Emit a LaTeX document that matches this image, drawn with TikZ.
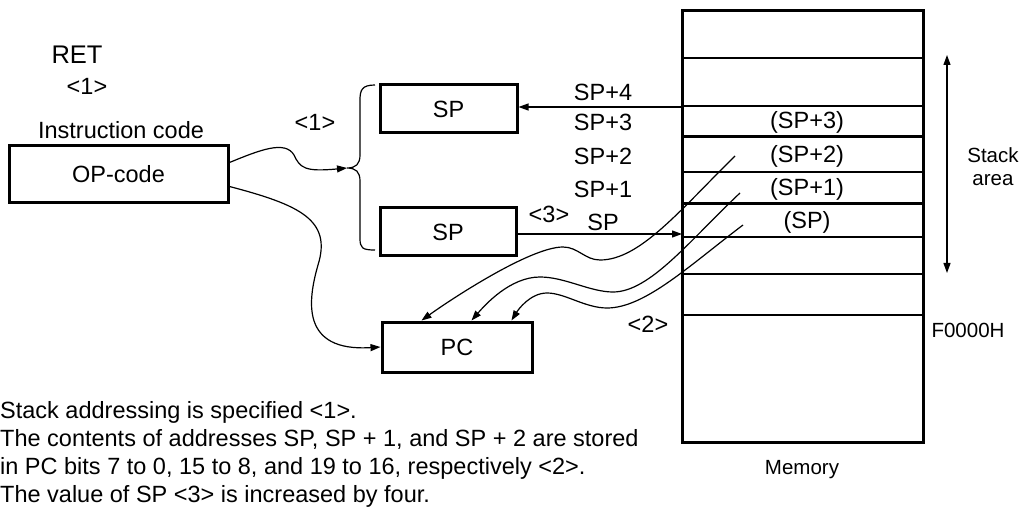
\documentclass[tikz,border=0pt]{standalone}
\usepackage{fontspec}
\setmainfont{Liberation Sans}
\usepackage{tikz}
\usetikzlibrary{positioning,arrows.meta,calc}

\begin{document}
\begin{tikzpicture}[
    x=1pt, y=-1pt,
    txt/.style={font=\fontsize{23.5}{28}\selectfont, inner sep=0pt},
    smalltxt/.style={font=\fontsize{20.5}{24}\selectfont, inner sep=0pt},
    regbox/.style={draw, line width=3pt, font=\fontsize{23.5}{28}\selectfont},
    membox/.style={draw, line width=3pt, outer sep=0pt,
        minimum width=241pt, minimum height=431pt},
    arr/.style={-{Triangle[length=10pt,width=7pt]}, line width=1.2pt},
]
\useasboundingbox (0,0) rectangle (1023,513);

% Instruction and registers
\node[txt] (ret) at (77,55) {\fontsize{25.5}{30}\selectfont RET};
\node[txt] (ret1) at (87,86) {<1>};
\node[txt] (icode) at (121,130) {Instruction code};
\node[regbox, minimum width=219pt, minimum height=57pt] (opcode) at (118.5,174.5) {OP-code};
\node[regbox, minimum width=137pt, minimum height=48pt] (sptop) at (448.5,109) {SP};
\node[regbox, minimum width=136pt, minimum height=48pt] (spbot) at (448,232) {SP};
\node[regbox, minimum width=150pt, minimum height=50pt] (pc) at (457,347) {PC};
\node[txt] (brace1) at (315,122) {<1>};

% Brace
\coordinate (bracetip) at (347,168);
\draw[line width=1.2pt] (375,85) .. controls (362,85) and (360,90) .. (360,100)
    -- (360,155) .. controls (360,164) and (356,168) .. (bracetip)
    .. controls (356,168) and (360,172) .. (360,181)
    -- (360,238) .. controls (360,248) and (362,250) .. (375,250);

% Memory
\node[membox] (mem) at (802.5,226.5) {};
\foreach \y/\w in {58/1.2, 106/2, 137/3, 172/2, 204/3, 237/1.2, 274/1.2, 315/1.2}
    \draw[line width=\w pt] (mem.west |- 0,\y) -- (mem.east |- 0,\y);
\coordinate (row4) at (682,107);
\coordinate (row0) at (682,234);

\node[txt] (m3) at (807,122) {(SP+3)};
\node[txt] (m2) at (807,156) {(SP+2)};
\node[txt] (m1) at (807,189) {(SP+1)};
\node[txt] (m0) at (807,222) {(SP)};

% Address labels
\node[txt] (a4) at (603,92) {SP+4};
\node[txt] (a3) at (603,122) {SP+3};
\node[txt] (a2) at (603,156) {SP+2};
\node[txt] (a1) at (603,189) {SP+1};
\node[txt] (a0) at (603,222) {SP};
\node[txt] (step3) at (549,214) {<3>};
\node[txt] (step2) at (648,324) {<2>};

% Stack area
\coordinate (stacktop) at (947,55);
\coordinate (stackbot) at (947,273);
\draw[{Triangle[length=10pt,width=7pt]}-{Triangle[length=10pt,width=7pt]}, line width=1.2pt]
    (stacktop) -- (stackbot);
\node[smalltxt] (stack) at (993,155) {Stack};
\node[smalltxt] (area) at (993,180) {area};
\node[smalltxt] (f0000) at (968,330) {F0000H};
\node[smalltxt] (memlbl) at (802,470) {Memory};

% Connectors
\draw[arr] (row4) -- (sptop.east |- row4);
\draw[arr] (spbot.east |- row0) -- (row0);
\draw[arr] ($(opcode.east)+(0,-12)$) .. controls (260,150) and (285,140) .. (294,155)
    .. controls (300,168) and (305,172) .. (bracetip);
\draw[arr] ($(opcode.east)+(0,12)$) .. controls (300,205) and (332,220) .. (318,265)
    .. controls (308,300) and (300,352) .. (pc.west);

% Memory to PC
\coordinate (w1) at (735,156);
\coordinate (w2) at (740,193);
\coordinate (w3) at (743,225);
\draw[arr] (w1) .. controls (680,210) and (640,260) .. (600,260)
    .. controls (585,260) and (578,247) .. (563,247)
    .. controls (530,247) and (450,300) .. ($(pc.north west)+(41,0)$);
\draw[arr] (w2) .. controls (690,240) and (650,292) .. (613,292)
    .. controls (590,292) and (565,277) .. (540,277)
    .. controls (510,277) and (485,305) .. ($(pc.north west)+(91,0)$);
\draw[arr] (w3) .. controls (690,265) and (645,308) .. (607,308)
    .. controls (585,308) and (565,293) .. (547,293)
    .. controls (530,293) and (518,310) .. ($(pc.north west)+(131,0)$);

% Notes
\node[txt, anchor=base west] (note1) at (0,418) {Stack addressing is specified <1>.};
\node[txt, anchor=base west] (note2) at (0,446) {The contents of addresses SP, SP + 1, and SP + 2 are stored};
\node[txt, anchor=base west] (note3) at (0,474) {in PC bits 7 to 0, 15 to 8, and 19 to 16, respectively <2>.};
\node[txt, anchor=base west] (note4) at (0,502) {The value of SP <3> is increased by four.};
\end{tikzpicture}
\end{document}
